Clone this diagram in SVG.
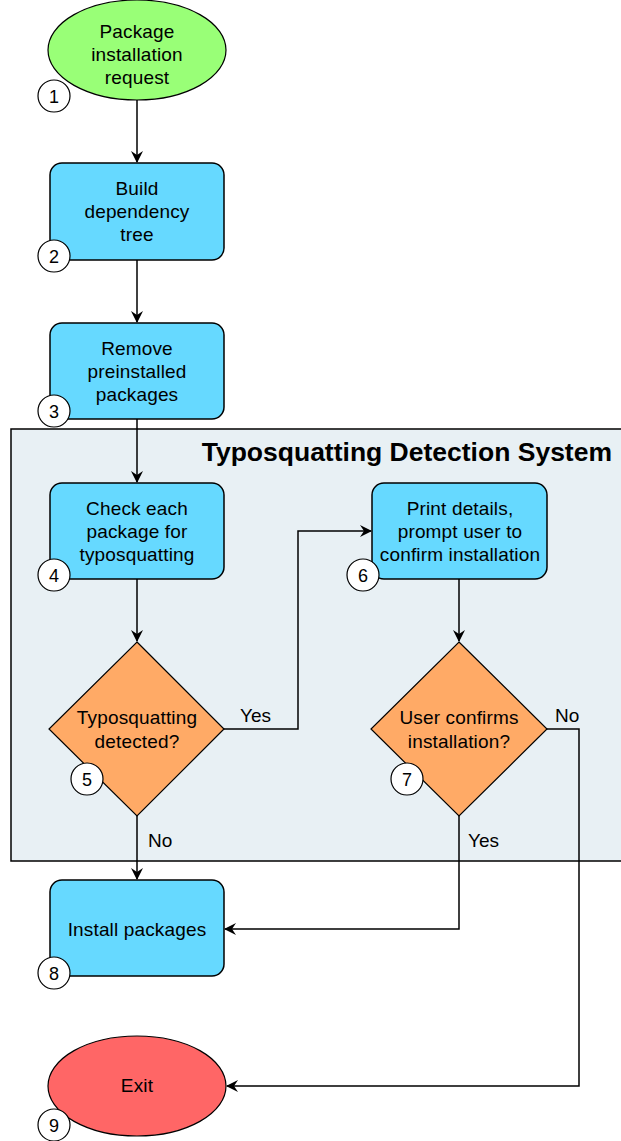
<svg xmlns="http://www.w3.org/2000/svg" width="621" height="1141" viewBox="0 0 621 1141">
<defs>
<marker id="ah" viewBox="0 0 12 12" refX="11" refY="6" markerWidth="12" markerHeight="12" markerUnits="userSpaceOnUse" orient="auto">
<path d="M0,0 L12,6 L0,12 L4,6 Z" fill="#000"/>
</marker>
<style>
.t{font-family:"Liberation Sans",Arial,sans-serif;font-size:19px;letter-spacing:0.15px;fill:#000;text-anchor:middle}
.num{font-family:"Liberation Sans",Arial,sans-serif;font-size:18px;fill:#000;text-anchor:middle}
.lbl{font-family:"Liberation Sans",Arial,sans-serif;font-size:19px;fill:#000}
.b{fill:#66D9FF;stroke:#000;stroke-width:1.5}
.d{fill:#FFAA66;stroke:#000;stroke-width:1.2}
.c{fill:#fff;stroke:#000;stroke-width:1.2}
.e{fill:none;stroke:#000;stroke-width:1.5;marker-end:url(#ah)}
</style>
</defs>
<rect width="621" height="1141" fill="#fff"/>
<g id="container">
<rect x="11" y="429" width="614" height="432" fill="#E8F0F4" stroke="#000" stroke-width="1.5"/>
<text x="612" y="461" font-family="Liberation Sans,Arial,sans-serif" font-size="26.5" font-weight="bold" text-anchor="end">Typosquatting Detection System</text>
</g>
<g id="connectors">
<line class="e" x1="137" y1="100" x2="137" y2="162"/>
<line class="e" x1="137" y1="260" x2="137" y2="322"/>
<line class="e" x1="137" y1="419" x2="137" y2="482"/>
<line class="e" x1="137" y1="579" x2="137" y2="641"/>
<polyline class="e" points="224,729 298,729 298,531 371,531"/>
<line class="e" x1="459" y1="579" x2="459" y2="641"/>
<line class="e" x1="137" y1="816" x2="137" y2="879"/>
<polyline class="e" points="459,816 459,929 225,929"/>
<polyline class="e" points="547,729 579,729 579,1086 227,1086"/>
<text class="lbl" x="240" y="722">Yes</text>
<text class="lbl" x="148" y="847">No</text>
<text class="lbl" x="468" y="847">Yes</text>
<text class="lbl" x="555" y="722">No</text>
</g>
<g id="n1">
<ellipse cx="137" cy="50" rx="89" ry="50" fill="#99FF77" stroke="#000" stroke-width="1.2"/>
<text class="t" x="137" y="37.5">Package</text>
<text class="t" x="137" y="60.5">installation</text>
<text class="t" x="137" y="83.5">request</text>
<circle class="c" cx="54" cy="96" r="16"/>
<text class="num" x="54" y="102.5">1</text>
</g>
<g id="n2">
<rect class="b" x="50" y="163" width="174" height="97" rx="12"/>
<text class="t" x="137" y="195">Build</text>
<text class="t" x="137" y="218">dependency</text>
<text class="t" x="137" y="241">tree</text>
<circle class="c" cx="54" cy="256" r="16"/>
<text class="num" x="54" y="262.5">2</text>
</g>
<g id="n3">
<rect class="b" x="50" y="323" width="174" height="96" rx="12"/>
<text class="t" x="137" y="355">Remove</text>
<text class="t" x="137" y="378">preinstalled</text>
<text class="t" x="137" y="401">packages</text>
<circle class="c" cx="54" cy="411" r="16"/>
<text class="num" x="54" y="417.5">3</text>
</g>
<g id="n4">
<rect class="b" x="50" y="483" width="174" height="96" rx="12"/>
<text class="t" x="137" y="515">Check each</text>
<text class="t" x="137" y="538">package for</text>
<text class="t" x="137" y="561">typosquatting</text>
<circle class="c" cx="54" cy="575" r="16"/>
<text class="num" x="54" y="581.5">4</text>
</g>
<g id="n6">
<rect class="b" x="372" y="483" width="175" height="96" rx="12"/>
<text class="t" x="460" y="515">Print details,</text>
<text class="t" x="460" y="538">prompt user to</text>
<text class="t" x="460" y="561">confirm installation</text>
<circle class="c" cx="363" cy="575" r="16"/>
<text class="num" x="363" y="581.5">6</text>
</g>
<g id="n5">
<polygon class="d" points="137,642 224,729 137,816 49,729"/>
<text class="t" x="137" y="724">Typosquatting</text>
<text class="t" x="137" y="748">detected?</text>
<circle class="c" cx="87" cy="779" r="16"/>
<text class="num" x="87" y="785.5">5</text>
</g>
<g id="n7">
<polygon class="d" points="459,642 547,729 459,816 371,729"/>
<text class="t" x="459" y="724">User confirms</text>
<text class="t" x="459" y="748">installation?</text>
<circle class="c" cx="407" cy="779" r="16"/>
<text class="num" x="407" y="785.5">7</text>
</g>
<g id="n8">
<rect class="b" x="50" y="880" width="174" height="96" rx="12"/>
<text class="t" x="137" y="935.5">Install packages</text>
<circle class="c" cx="54" cy="973" r="16"/>
<text class="num" x="54" y="979.5">8</text>
</g>
<g id="n9">
<ellipse cx="137" cy="1086" rx="89" ry="50" fill="#FF6666" stroke="#000" stroke-width="1.2"/>
<text class="t" x="137" y="1092">Exit</text>
<circle class="c" cx="54" cy="1125" r="16"/>
<text class="num" x="54" y="1131.5">9</text>
</g>
</svg>
